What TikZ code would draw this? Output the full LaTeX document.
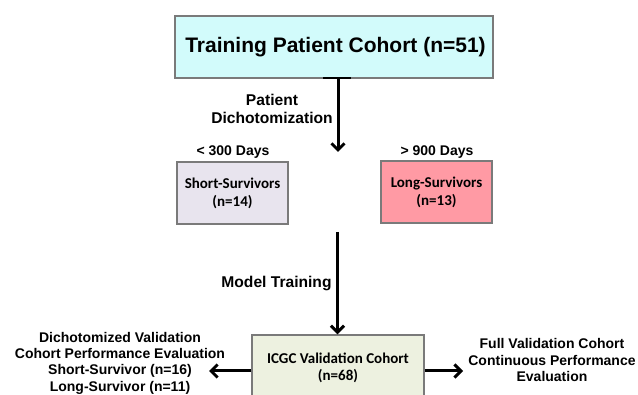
\documentclass[tikz,border=0pt]{standalone}
\usepackage{fontspec}
\setmainfont{Liberation Sans}
\newfontfamily\calfont{Carlito}
\usetikzlibrary{arrows.meta,calc}
\definecolor{topfill}{HTML}{D2FBFB}
\definecolor{shortfill}{HTML}{E8E4EE}
\definecolor{longfill}{HTML}{FF9AA4}
\definecolor{icgcfill}{HTML}{EDF1E0}
\definecolor{boxline}{HTML}{7A7A7A}
\tikzset{
  box/.style={draw=boxline, line width=1.3pt, inner sep=0pt, align=center},
  flow/.style={line width=3pt, -{Straight Barb[length=6.5pt,width=13pt]}},
  lbl/.style={font=\bfseries\fontsize{14}{16.3}\selectfont, align=center, inner sep=0pt},
}
\begin{document}
\begin{tikzpicture}[x=1pt,y=-1pt]
\clip (0,0) rectangle (638,395);
\fill[white] (0,0) rectangle (638,395);

\node[box, fill=topfill, minimum width=318pt, minimum height=62pt,
      font=\bfseries\fontsize{21}{24}\selectfont] (top) at (334,47) {\hspace*{3pt}Training Patient Cohort (n=51)};

\node[box, fill=shortfill, minimum width=111pt, minimum height=62pt,
      font=\calfont\bfseries\fontsize{15}{18}\selectfont] (short) at (232.5,193) {Short-Survivors\\(n=14)};
\node[box, fill=longfill, minimum width=111pt, minimum height=62pt,
      font=\calfont\bfseries\fontsize{15}{18}\selectfont] (long) at (436.5,192) {Long-Survivors\\(n=13)};

\node[box, fill=icgcfill, minimum width=172pt, minimum height=65pt,
      font=\calfont\bfseries\fontsize{15}{17}\selectfont] (icgc) at (338,367.5) {ICGC Validation Cohort\\(n=68)};

% labels
\node[lbl, font=\bfseries\fontsize{15.6}{18}\selectfont] (pd) at (272,109) {Patient\\Dichotomization};
\node[lbl] (d300) at (233,152) {< 300 Days};
\node[lbl] (d900) at (437,152) {> 900 Days};
\node[lbl, font=\bfseries\fontsize{15.6}{18}\selectfont] (mt) at (276.5,284) {Model Training};
\node[lbl] (left) at (120,363) {Dichotomized Validation\\Cohort Performance Evaluation\\Short-Survivor (n=16)\\Long-Survivor (n=11)};
\node[lbl] (right) at (552,360) {Full Validation Cohort\\Continuous Performance\\Evaluation};

% connectors
\coordinate (tbar) at (337,78);
\coordinate (split) at (338,152);
\coordinate (mstart) at (337.5,232);
\coordinate (lt) at (209,371);
\coordinate (rt) at (463,371);

\draw[line width=2pt] ($(tbar)+(-14,0)$) -- ($(tbar)+(14,0)$);
\draw[flow] (top.south -| split) -- (split);
\draw[flow] (mstart) -- (icgc.north -| mstart);
\draw[flow] (icgc.west |- lt) -- (lt);
\draw[flow] (icgc.east |- rt) -- (rt);
\end{tikzpicture}
\end{document}
